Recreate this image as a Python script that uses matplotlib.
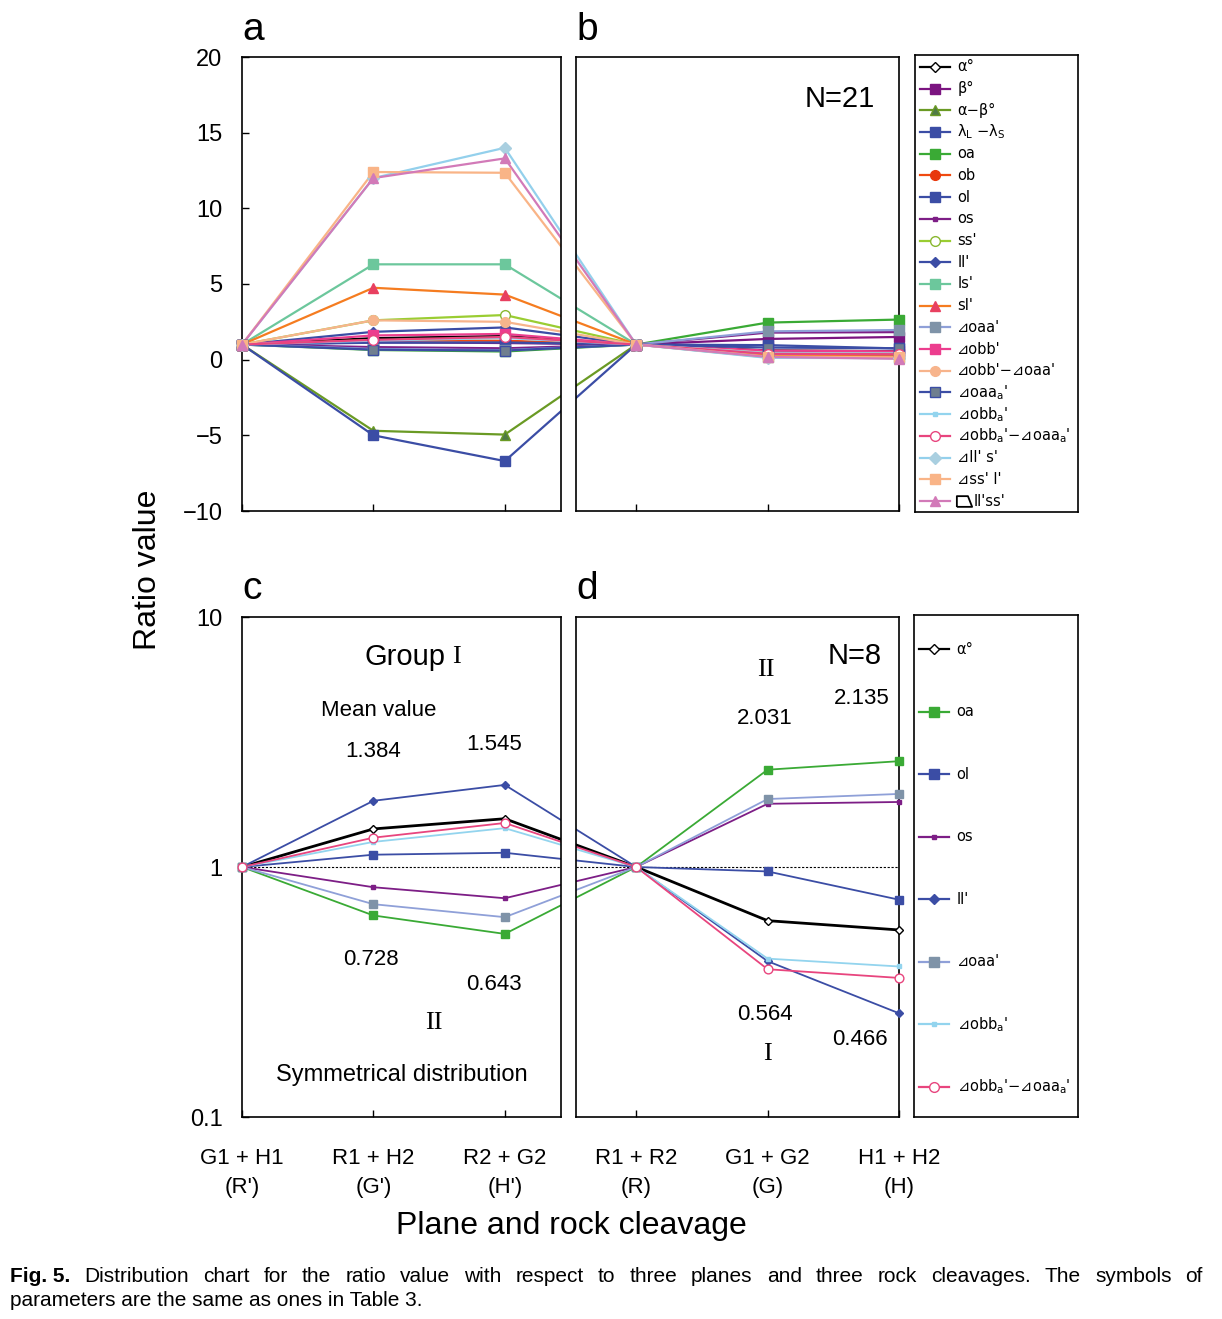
import numpy as np
import matplotlib.pyplot as plt

plt.rcParams['font.family'] = ['Liberation Sans', 'DejaVu Sans']

# 6 positions along the shared x axis: three planes (a, c) and three rock cleavages (b, d)
tick_labels = ["G1 + H1\n(R')", "R1 + H2\n(G')", "R2 + G2\n(H')",
               "R1 + R2\n(R)", "G1 + G2\n(G)", "H1 + H2\n(H)"]
positions = np.arange(len(tick_labels))

# ratio values (N=21 parameters)
alpha_deg = [1, 1.42, 1.56, 1, 0.61, 0.56]
beta_deg = [1, 1.15, 1.10, 1, 1.37, 1.50]
alpha_minus_beta = [1, -4.70, -4.95, 1, 0.45, 0.35]
lambda_diff = [1, -5.00, -6.70, 1, 0.50, 0.40]
oa = [1, 0.64, 0.54, 1, 2.45, 2.65]
ob = [1, 1.30, 1.25, 1, 0.35, 0.30]
ol = [1, 1.12, 1.14, 1, 0.96, 0.74]
os_ = [1, 0.83, 0.75, 1, 1.79, 1.82]
ss_ = [1, 2.60, 2.95, 1, 0.30, 0.25]
ll_ = [1, 1.84, 2.13, 1, 0.42, 0.26]
ls_ = [1, 6.30, 6.30, 1, 0.15, 0.10]
sl_ = [1, 4.75, 4.30, 1, 0.25, 0.22]
d_oaa = [1, 0.71, 0.63, 1, 1.87, 1.96]
d_obb = [1, 1.60, 1.70, 1, 0.60, 0.55]
d_obb_oaa = [1, 2.60, 2.50, 1, 0.45, 0.40]
d_oaaa = [1, 0.66, 0.60, 1, 0.80, 0.75]
d_obba = [1, 1.26, 1.43, 1, 0.43, 0.40]
d_obba_oaaa = [1, 1.31, 1.50, 1, 0.39, 0.36]
d_lls = [1, 12.0, 14.0, 1, 0.12, 0.10]
d_ssl = [1, 12.4, 12.35, 1, 0.20, 0.15]
trap_llss = [1, 12.0, 13.3, 1, 0.18, 0.06]

labels = ['α°', 'β°', 'α−β°', r'λ$_\mathrm{L}$ −λ$_\mathrm{S}$', 'oa', 'ob', 'ol', 'os',
          "ss'", "ll'", "ls'", "sl'", "⊿oaa'", "⊿obb'", "⊿obb'−⊿oaa'",
          r"⊿oaa$_\mathrm{a}$'", r"⊿obb$_\mathrm{a}$'",
          r"⊿obb$_\mathrm{a}$'−⊿oaa$_\mathrm{a}$'", "⊿ll' s'", "⊿ss' l'",
          "ll'ss'"]
values = [alpha_deg, beta_deg, alpha_minus_beta, lambda_diff, oa, ob, ol, os_,
          ss_, ll_, ls_, sl_, d_oaa, d_obb, d_obb_oaa, d_oaaa, d_obba,
          d_obba_oaaa, d_lls, d_ssl, trap_llss]

# line colour, marker, face, edge, size
styles = [
    ('black', 'D', 'white', 'black', 5),
    ('#7b1480', 's', '#7b1480', '#7b1480', 7),
    ('#6a9a24', '^', '#4f7a45', '#6a9a24', 7),
    ('#3b4da5', 's', '#3b4da5', '#3b4da5', 7),
    ('#3aaa35', 's', '#3aaa35', '#3aaa35', 7),
    ('#f04a10', 'o', '#e8380c', '#e8380c', 7),
    ('#3b4da5', 's', '#3b4da5', '#3b4da5', 7),
    ('#7d1e86', 's', '#7d1e86', '#7d1e86', 2.5),
    ('#9acd32', 'o', 'white', '#8ab830', 7),
    ('#3b4da5', 'D', '#3b4da5', '#3b4da5', 5),
    ('#6cc79c', 's', '#6cc79c', '#6cc79c', 7),
    ('#f57c20', '^', '#e84060', '#e84060', 7),
    ('#8fa0d8', 's', '#7f93a8', '#7f93a8', 7),
    ('#ec3d8e', 's', '#ec3d8e', '#ec3d8e', 7),
    ('#f7b48c', 'o', '#f7b48c', '#f7b48c', 7),
    ('#3b4da5', 's', '#6f7f8f', '#3b4da5', 7),
    ('#93d4ee', 's', '#93d4ee', '#93d4ee', 2.5),
    ('#e8457e', 'o', 'white', '#e8457e', 7),
    ('#93d0ec', 'D', '#a9cfe0', '#a9cfe0', 6),
    ('#f9b487', 's', '#f9b487', '#f9b487', 7),
    ('#d27ab8', '^', '#d27ab8', '#d27ab8', 7),
]

# the 8 parameters shown in c and d
group_idx = [0, 4, 6, 7, 9, 12, 16, 17]

W, H = 1222, 1319
fig = plt.figure(figsize=(W / 100, H / 100), dpi=100)


def box(l, t, r, b):
    return [l / W, 1 - b / H, (r - l) / W, (b - t) / H]


step = (899 - 242) / 5
xa = (0, (561 - 242) / step)
xb = ((576 - 242) / step, 5)

ax_a = fig.add_axes(box(242, 57, 561, 511))
ax_b = fig.add_axes(box(576, 57, 899, 511))
ax_c = fig.add_axes(box(242, 617, 561, 1117))
ax_d = fig.add_axes(box(576, 617, 899, 1117))
leg_top = fig.add_axes(box(915, 55, 1078, 512))
leg_bot = fig.add_axes(box(914, 615, 1078, 1117))


def draw(ax, idx, xlim, lw, scale):
    col, mk, fc, ec, ms = styles[idx]
    y = np.array(values[idx], dtype=float)
    ax.plot(positions, y, color=col, lw=lw, zorder=2)
    vis = (positions >= xlim[0] - 1e-6) & (positions <= xlim[1] + 1e-6)
    ax.plot(positions[vis], y[vis], ls='none', marker=mk, mfc=fc, mec=ec,
            ms=ms * scale, mew=1.0, clip_on=False, zorder=3)


for ax, xl in [(ax_a, xa), (ax_b, xb)]:
    for i in range(len(values)):
        draw(ax, i, xl, 1.6, 1.0)
    ax.set_ylim(-10, 20)

for ax, xl in [(ax_c, xa), (ax_d, xb)]:
    ax.axhline(1, color='black', lw=0.8, ls=(0, (2, 1.5)), zorder=1)
    for i in group_idx:
        draw(ax, i, xl, 2.0 if i == 0 else 1.3, 0.9)
    ax.set_yscale('log')
    ax.set_ylim(0.1, 10)
    ax.minorticks_off()

for ax, xl in [(ax_a, xa), (ax_b, xb), (ax_c, xa), (ax_d, xb)]:
    ax.set_xticks(positions)
    ax.set_xlim(xl)
    ax.tick_params(direction='in', length=5, width=1, labelsize=16, pad=6)
    for s in ax.spines.values():
        s.set_linewidth(1.2)

ax_a.set_yticks(np.arange(-10, 21, 5))
ax_a.tick_params(axis='y', labelsize=17, pad=14)
ax_c.set_yticks([0.1, 1, 10])
ax_c.set_yticklabels(['0.1', '1', '10'])
ax_c.minorticks_off()
ax_c.tick_params(axis='y', labelsize=17, pad=14)
for ax in [ax_b, ax_d]:
    ax.tick_params(axis='y', left=False, labelleft=False)
for ax in [ax_a, ax_b]:
    ax.tick_params(axis='x', labelbottom=False)
for ax in [ax_c, ax_d]:
    ax.set_xticklabels(tick_labels)
    ax.tick_params(axis='x', labelsize=16, pad=22)
    for t in ax.get_xticklabels():
        t.set_linespacing(1.5)

# panel letters
for ax, letter in [(ax_a, 'a'), (ax_b, 'b'), (ax_c, 'c'), (ax_d, 'd')]:
    ax.text(0.0, 1.02, letter, transform=ax.transAxes, fontsize=28,
            ha='left', va='bottom')

ax_b.text(4.55, 17.25, 'N=21', fontsize=21, ha='center', va='center')

# annotations in c
ax_c.text(1.55, 6.9, 'Group', fontsize=21, ha='right', va='center')
ax_c.text(1.6, 6.9, 'I', fontsize=19, ha='left', va='center', family='Liberation Serif')
ax_c.text(1.04, 4.21, 'Mean value', fontsize=16, ha='center', va='center')
ax_c.text(1.0, 2.91, '1.384', fontsize=16, ha='center', va='center')
ax_c.text(1.92, 3.10, '1.545', fontsize=16, ha='center', va='center')
ax_c.text(0.98, 0.425, '0.728', fontsize=16, ha='center', va='center')
ax_c.text(1.92, 0.34, '0.643', fontsize=16, ha='center', va='center')
ax_c.text(1.46, 0.238, 'II', fontsize=19, ha='center', va='center', family='Liberation Serif')
ax_c.text(1.22, 0.147, 'Symmetrical distribution', fontsize=17, ha='center', va='center')

# annotations in d
ax_d.text(3.985, 6.14, 'II', fontsize=19, ha='center', va='center', family='Liberation Serif')
ax_d.text(4.66, 6.98, 'N=8', fontsize=21, ha='center', va='center')
ax_d.text(4.72, 4.70, '2.135', fontsize=16, ha='center', va='center')
ax_d.text(3.98, 3.91, '2.031', fontsize=16, ha='center', va='center')
ax_d.text(3.98, 0.256, '0.564', fontsize=16, ha='center', va='center')
ax_d.text(4.0, 0.179, 'I', fontsize=19, ha='center', va='center', family='Liberation Serif')
ax_d.text(4.70, 0.205, '0.466', fontsize=16, ha='center', va='center')

# trapezoid sign (no installed font has U+23E2), drawn as a marker shape
trapezoid = [(-1, -0.7), (1, -0.7), (0.45, 0.7), (-1, 0.7), (-1, -0.7)]


def legend_box(ax, idxs, y0, y1):
    ax.set_xlim(0, 1)
    ax.set_ylim(0, 1)
    ax.set_xticks([])
    ax.set_yticks([])
    for s in ax.spines.values():
        s.set_linewidth(1.2)
    ys = np.linspace(y0, y1, len(idxs))
    for y, i in zip(ys, idxs):
        col, mk, fc, ec, ms = styles[i]
        ax.plot([0.03, 0.215], [y, y], color=col, lw=1.6)
        ax.plot([0.123], [y], ls='none', marker=mk, mfc=fc, mec=ec, ms=ms, mew=1.0)
        tx = 0.26
        if i == len(values) - 1:
            ax.plot([0.30], [y], ls='none', marker=trapezoid, ms=11, mfc='none',
                    mec='black', mew=1.3)
            tx = 0.36
        ax.text(tx, y, labels[i], fontsize=10.5, va='center', ha='left',
                family=['DejaVu Sans', 'Noto Sans CJK SC'])


legend_box(leg_top, list(range(len(values))), 0.974, 0.024)
legend_box(leg_bot, group_idx, 0.932, 0.06)

fig.text(148 / W, 1 - 570 / H, 'Ratio value', rotation=90, fontsize=23,
         ha='center', va='center')
fig.text(571 / W, 1 - 1226 / H, 'Plane and rock cleavage', fontsize=23,
         ha='center', va='center')

# caption, first line justified between x=10 and x=1203
cap_y1 = 1 - 1276 / H
cap_y2 = 1 - 1301 / H
cap_size = 15
line1 = ('Distribution chart for the ratio value with respect to three planes and '
         'three rock cleavages. The symbols of').split()
t1 = fig.text(10 / W, cap_y1, 'Fig. 5.', fontsize=cap_size, weight='bold', va='center')
words = [fig.text(0, cap_y1, w, fontsize=cap_size, va='center') for w in line1]
fig.canvas.draw()
r = fig.canvas.get_renderer()
x0 = t1.get_window_extent(r).x1
widths = [w.get_window_extent(r).width for w in words]
gap = (1203 - x0 - sum(widths)) / len(words)
x = x0 + gap
for w, wd in zip(words, widths):
    w.set_x(x / W)
    x += wd + gap
fig.text(10 / W, cap_y2, 'parameters are the same as ones in Table 3.',
         fontsize=cap_size, va='center')

fig.savefig('out.png', dpi=100)
